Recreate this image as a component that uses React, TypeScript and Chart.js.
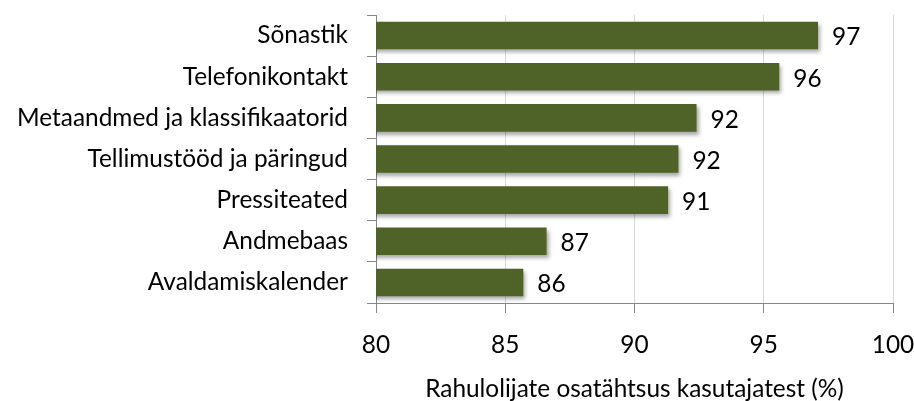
import React, { useEffect, useRef } from 'react';
import { Chart, registerables } from 'chart.js';

Chart.register(...registerables);

const categories = [
  'Sõnastik',
  'Telefonikontakt',
  'Metaandmed ja klassifikaatorid',
  'Tellimustööd ja päringud',
  'Pressiteated',
  'Andmebaas',
  'Avaldamiskalender',
];
const values = [97.1, 95.6, 92.4, 91.7, 91.3, 86.6, 85.7];
const xTicks = [80, 85, 90, 95, 100];
const xMin = 80;
const xMax = 100;
const axisTitle = 'Rahulolijate osatähtsus kasutajatest (%)';

const FONT_FAMILY = "Lato, 'Open Sans', sans-serif";
const FONT_SIZE = 24.4;
const BAR_COLOR = '#4F6228';
const AXIS_COLOR = '#868686';
const GRID_COLOR = '#D9D9D9';

const shadowPlugin = {
  id: 'barShadow',
  beforeDatasetsDraw(chart: any) {
    const ctx = chart.ctx;
    ctx.save();
    ctx.shadowColor = 'rgba(0,0,0,0.35)';
    ctx.shadowBlur = 4;
    ctx.shadowOffsetX = 2;
    ctx.shadowOffsetY = 3;
  },
  afterDatasetsDraw(chart: any) {
    chart.ctx.restore();
  },
};

const valueLabels = {
  id: 'valueLabels',
  afterDatasetsDraw(chart: any) {
    const ctx = chart.ctx;
    const meta = chart.getDatasetMeta(0);
    ctx.save();
    ctx.font = `${FONT_SIZE}px ${FONT_FAMILY}`;
    ctx.fillStyle = '#000';
    ctx.textAlign = 'left';
    ctx.textBaseline = 'middle';
    meta.data.forEach((bar: any, i: number) => {
      ctx.fillText(String(Math.round(values[i])), bar.x + 14, bar.y + 2);
    });
    ctx.restore();
  },
};

export default function App() {
  const ref = useRef<HTMLCanvasElement | null>(null);

  useEffect(() => {
    if (!ref.current) return;
    const chart = new Chart(ref.current, {
      type: 'bar',
      data: {
        labels: categories,
        datasets: [
          {
            data: values,
            backgroundColor: BAR_COLOR,
            borderWidth: 0,
            categoryPercentage: 1,
            barPercentage: 0.67,
          },
        ],
      },
      options: {
        indexAxis: 'y',
        animation: false,
        responsive: false,
        layout: { padding: { top: 15, right: 21, left: 0, bottom: 0 } },
        plugins: {
          legend: { display: false },
          tooltip: { enabled: false },
        },
        scales: {
          x: {
            min: xMin,
            max: xMax,
            afterBuildTicks: (scale: any) => {
              scale.ticks = xTicks.map((v) => ({ value: v }));
            },
            afterFit: (scale: any) => {
              scale.height = 98;
              scale.paddingLeft = 0;
              scale.paddingRight = 0;
            },
            grid: {
              color: GRID_COLOR,
              tickColor: AXIS_COLOR,
              tickLength: 10,
              drawTicks: true,
            },
            border: { color: AXIS_COLOR, width: 1 },
            ticks: {
              color: '#000',
              font: { family: FONT_FAMILY, size: FONT_SIZE },
              padding: 18,
              maxRotation: 0,
            },
            title: {
              display: true,
              text: axisTitle,
              color: '#000',
              font: { family: FONT_FAMILY, size: FONT_SIZE, lineHeight: 1 },
              padding: { top: 0, bottom: 0 },
            },
          },
          y: {
            afterFit: (scale: any) => {
              scale.width = 376;
              scale.paddingTop = 0;
              scale.paddingBottom = 0;
            },
            grid: {
              drawOnChartArea: false,
              drawTicks: true,
              tickLength: 9,
              tickColor: AXIS_COLOR,
              offset: true,
            },
            border: { color: AXIS_COLOR, width: 1 },
            ticks: {
              color: '#000',
              font: { family: FONT_FAMILY, size: FONT_SIZE },
              padding: 19,
            },
          },
        },
      },
      plugins: [shadowPlugin, valueLabels],
    });
    return () => chart.destroy();
  }, []);

  return (
    <div style={{ position: 'absolute', left: 0, top: 0, width: 914, height: 401, background: '#fff' }}>
      <canvas ref={ref} width={914} height={401} />
    </div>
  );
}
